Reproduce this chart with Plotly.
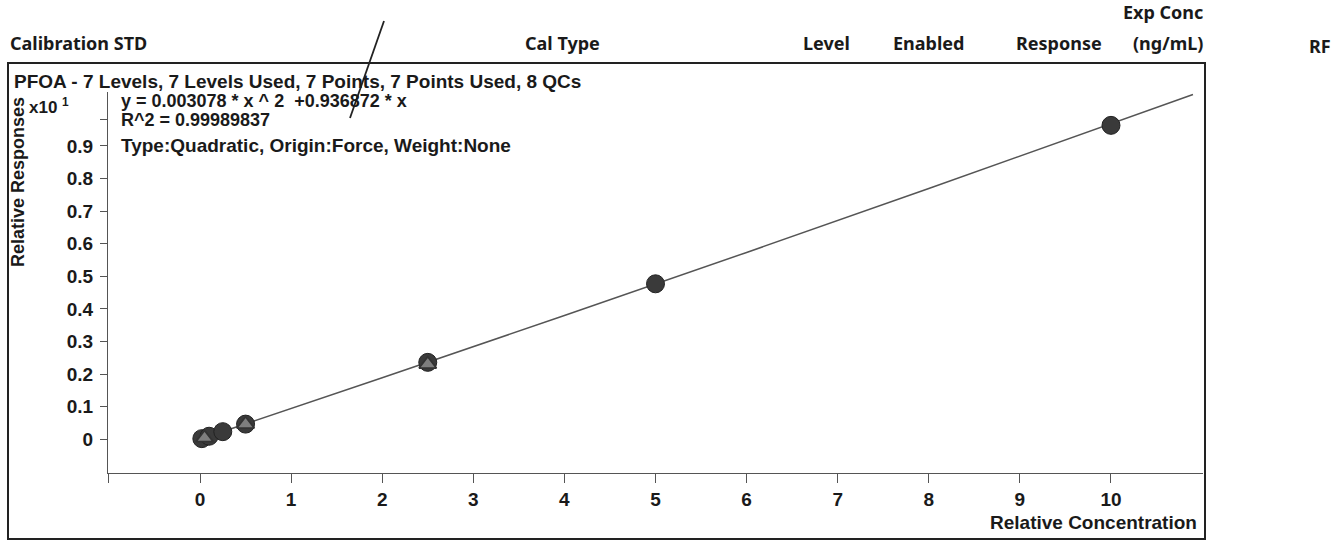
import plotly.graph_objects as go

# ---------------- data ----------------
cal_conc = [0.02, 0.1, 0.25, 0.5, 2.5, 5.0, 10.0]
cal_resp = [0.02, 0.094, 0.234, 0.466, 2.36, 4.77, 9.63]
qc_conc = [0.05, 0.5, 2.5]
qc_resp = [0.045, 0.46, 2.30]
coef_a = 0.003078
coef_b = 0.936872
fit_x = [0, 0.5, 1, 2, 4, 6, 8, 10, 10.9]
fit_y = [coef_a * x * x + coef_b * x for x in fit_x]
y_scale = 10.0  # axis multiplier "x10 1"
y_tickvals = [0, 0.1, 0.2, 0.3, 0.4, 0.5, 0.6, 0.7, 0.8, 0.9, 0.98]
y_ticktext = ["0", "0.1", "0.2", "0.3", "0.4", "0.5", "0.6", "0.7", "0.8", "0.9", ""]
x_tickvals = [-1, 0, 1, 2, 3, 4, 5, 6, 7, 8, 9, 10]
x_ticktext = ["", "0", "1", "2", "3", "4", "5", "6", "7", "8", "9", "10"]

W, H = 1344, 541
def px(x):
    return x / W
def py(y):
    return 1 - y / H

FONT = "Liberation Sans, Arial, sans-serif"
HFONT = "Noto Sans, Open Sans, sans-serif"
TXT = "#1a1a1a"

fig = go.Figure()
fig.add_trace(go.Scatter(
    x=fit_x, y=[v / y_scale for v in fit_y], mode="lines",
    line=dict(color="#555555", width=1.5), hoverinfo="skip", showlegend=False))
fig.add_trace(go.Scatter(
    x=cal_conc, y=[v / y_scale for v in cal_resp], mode="markers",
    marker=dict(symbol="circle", size=18, color="#3a3a3a",
                line=dict(color="#222222", width=1)),
    showlegend=False, cliponaxis=False))
fig.add_trace(go.Scatter(
    x=qc_conc, y=[v / y_scale for v in qc_resp], mode="markers",
    marker=dict(symbol="triangle-up", size=15, color="#7e7e7e",
                line=dict(color="#333333", width=1.8)),
    showlegend=False, cliponaxis=False))

y0_px, yper = 439.3, 326.0
y_bot = -(473 - y0_px) / yper
y_top = (y0_px - 92) / yper

TICKF = dict(family=FONT, size=19, color=TXT, weight="bold")
fig.update_layout(
    width=W, height=H,
    margin=dict(l=0, r=0, t=0, b=0),
    paper_bgcolor="white", plot_bgcolor="white",
    font=dict(family=FONT, size=15, color=TXT),
    xaxis=dict(
        domain=[px(108), px(1203)],
        range=[-1.01, 11.01],
        tickvals=x_tickvals, ticktext=x_ticktext,
        showline=True, linecolor="#555555", linewidth=1.3,
        ticks="outside", ticklen=9, tickwidth=1.3, tickcolor="#555555",
        showgrid=False, zeroline=False,
        tickfont=TICKF,
    ),
    yaxis=dict(
        domain=[py(473), py(92)],
        range=[y_bot, y_top],
        tickvals=y_tickvals, ticktext=y_ticktext,
        showline=True, linecolor="#555555", linewidth=1.3,
        ticks="outside", ticklen=7, tickwidth=1.3, tickcolor="#555555",
        ticklabelstandoff=3,
        showgrid=False, zeroline=False,
        tickfont=TICKF,
    ),
)

shapes = [
    dict(type="rect", xref="paper", yref="paper",
         x0=px(8), x1=px(1205), y0=py(539), y1=py(63),
         line=dict(color="#222222", width=2), fillcolor="rgba(0,0,0,0)"),
    dict(type="line", xref="paper", yref="paper",
         x0=px(384), y0=py(21), x1=px(350), y1=py(118),
         line=dict(color="#222222", width=1.8)),
]
fig.update_layout(shapes=shapes)

ann = []
def add(text, x, y, xa="left", ya="middle", size=15, family=FONT, bold=False, angle=0):
    t = f"<b>{text}</b>" if bold else text
    ann.append(dict(text=t, x=px(x), y=py(y), xref="paper", yref="paper",
                    xanchor=xa, yanchor=ya, showarrow=False, textangle=angle,
                    font=dict(family=family, size=size, color=TXT)))

# header row
HS = 18
add("Calibration STD", 8, 43, size=HS, family=HFONT, bold=True)
add("Cal Type", 562, 43, xa="center", size=HS, family=HFONT, bold=True)
add("Level", 826, 43, xa="center", size=HS, family=HFONT, bold=True)
add("Enabled", 928, 43, xa="center", size=HS, family=HFONT, bold=True)
add("Response", 1059, 43, xa="center", size=HS, family=HFONT, bold=True)
add("Exp Conc", 1205, 12, xa="right", size=HS, family=HFONT, bold=True)
add("(ng/mL)", 1205, 43, xa="right", size=HS, family=HFONT, bold=True)
add("RF", 1320, 46, xa="center", size=HS, family=HFONT, bold=True)

# plot texts
PS = 19
add("PFOA - 7 Levels, 7 Levels Used, 7 Points, 7 Points Used, 8 QCs", 12, 81, size=PS, bold=True)
add("y = 0.003078 * x ^ 2  +0.936872 * x", 119, 101, size=18, bold=True)
add("R^2 = 0.99989837", 119, 120, size=18, bold=True)
add("Type:Quadratic, Origin:Force, Weight:None", 119, 145, size=PS, bold=True)
add("x10 <sup>1</sup>", 71, 106, xa="right", size=17, bold=True)
add("Relative Responses", 18, 182, xa="center", size=18, angle=-90, bold=True)
add("Relative Concentration", 1199, 522, xa="right", size=19, bold=True)

fig.update_layout(annotations=ann)

fig.write_html("out.html")
